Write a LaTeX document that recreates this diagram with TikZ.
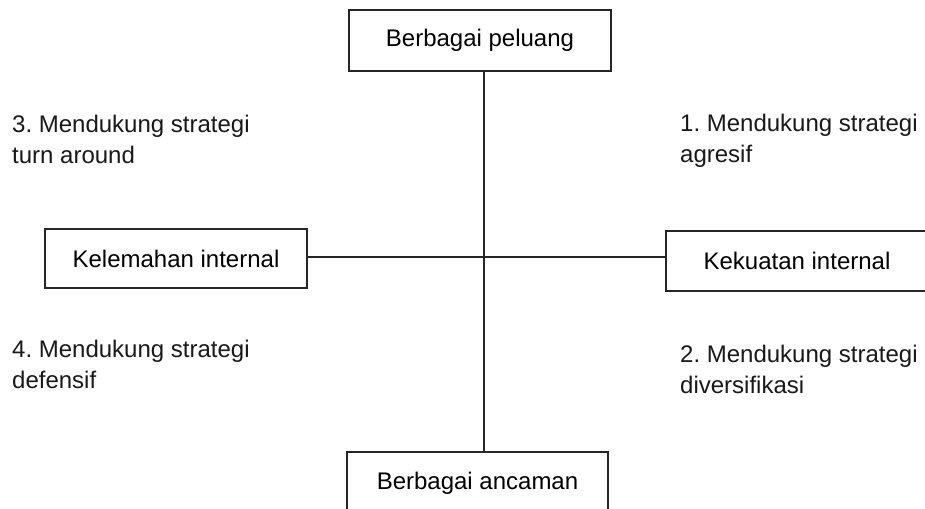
\documentclass[tikz,border=0pt]{standalone}
\usepackage{fontspec}
\setmainfont{Liberation Sans}
\frenchspacing
\begin{document}
\begin{tikzpicture}[x=1pt,y=-1pt,
  box/.style={draw=black!85,line width=1.6pt,fill=white,inner sep=0pt,
    font=\fontsize{24}{31}\selectfont},
  quad/.style={anchor=north west,inner sep=0pt,align=left,
    font=\fontsize{24}{31}\selectfont,text=black!90},
  axis/.style={draw=black!85,line width=1.6pt}]
\clip (0,0) rectangle (925,508);
\fill[white] (0,0) rectangle (925,508);

% centre of the cross
\coordinate (c) at (484,257);

% the four boxes on the axes
\node[box,minimum width=262pt,minimum height=61pt] (top) at (480,40.5) {Berbagai peluang};
\node[box,minimum width=261pt,minimum height=62pt] (bottom) at (477.5,483) {Berbagai ancaman};
\node[box,minimum width=262pt,minimum height=59pt] (left) at (176,258.5) {Kelemahan internal};
\node[box,minimum width=262pt,minimum height=60pt] (right) at (797,261) {Kekuatan internal};

% axes
\draw[axis] (top.south -| c) -- (bottom.north -| c);
\draw[axis] (left.east |- c) -- (right.west |- c);

% quadrant labels
\node[quad] (q3) at (12,115) {3. Mendukung strategi\\turn around};
\node[quad] (q1) at (680,114) {1. Mendukung strategi\\agresif};
\node[quad] (q4) at (12,340) {4. Mendukung strategi\\defensif};
\node[quad] (q2) at (680,345) {2. Mendukung strategi\\diversifikasi};
\end{tikzpicture}
\end{document}
